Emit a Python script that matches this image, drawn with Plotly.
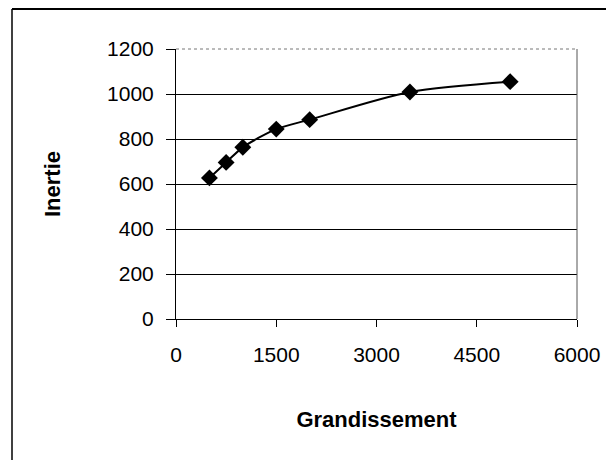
import plotly.graph_objects as go

# Data
grandissement = [500, 750, 1000, 1500, 2000, 3500, 5000]
inertie = [627, 696, 763, 844, 886, 1009, 1055]

x_ticks = [0, 1500, 3000, 4500, 6000]
y_ticks = [0, 200, 400, 600, 800, 1000, 1200]

# The page body has an 8px margin, so the figure is sized/offset to compensate
W, H = 606, 452
ML, MR, MT, MB = 168, 37, 41, 141
PW, PH = W - ML - MR, H - MT - MB

def px_x(p):
    return (p - ML) / PW

def px_y(p):
    return (H - MB - p) / PH

fig = go.Figure()
fig.add_trace(go.Scatter(
    x=grandissement, y=inertie,
    mode="lines+markers",
    line=dict(color="black", width=2, shape="spline", smoothing=0.8),
    marker=dict(symbol="diamond", size=13, color="black"),
    showlegend=False,
))

font = dict(family="Liberation Sans, Arial, sans-serif", size=21, color="black")

fig.update_layout(
    width=W, height=H,
    margin=dict(l=ML, r=MR, t=MT, b=MB),
    paper_bgcolor="white",
    plot_bgcolor="white",
    font=font,
    xaxis=dict(
        range=[0, 6000], tickvals=x_ticks, ticktext=[str(v) for v in x_ticks],
        showgrid=False, zeroline=False,
        showline=True, linecolor="black", linewidth=1,
        ticks="outside", ticklen=7, tickcolor="black", tickwidth=1,
        ticklabelstandoff=10,
        title=dict(text="<b>Grandissement</b>", font=dict(size=22), standoff=46),
    ),
    yaxis=dict(
        range=[0, 1200], tickvals=y_ticks, ticktext=[str(v) for v in y_ticks],
        showgrid=True, gridcolor="black", gridwidth=1, zeroline=False,
        showline=True, linecolor="black", linewidth=1,
        ticks="outside", ticklen=9, tickcolor="black", tickwidth=1,
        ticklabelstandoff=8,
        title=dict(text="<b>Inertie</b>", font=dict(size=22), standoff=40),
    ),
    shapes=[
        # plot-area border (top & right, grey)
        dict(type="line", xref="paper", yref="paper", x0=0, x1=1, y0=1, y1=1,
             line=dict(color="#777777", width=1, dash="dot")),
        dict(type="line", xref="paper", yref="paper", x0=1, x1=1, y0=0, y1=1,
             line=dict(color="#555555", width=1)),
        # outer chart frame (left & top)
        dict(type="line", xref="paper", yref="paper",
             x0=px_x(4), x1=px_x(4), y0=px_y(470), y1=px_y(1),
             line=dict(color="black", width=1.5)),
        dict(type="line", xref="paper", yref="paper",
             x0=px_x(4), x1=px_x(630), y0=px_y(1), y1=px_y(1),
             line=dict(color="black", width=2)),
    ],
)

fig.write_html("out.html")
